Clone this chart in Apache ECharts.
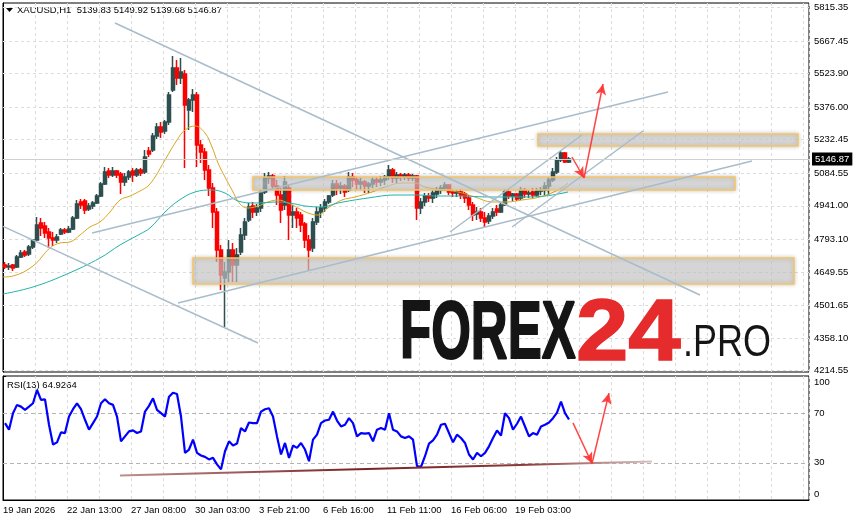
<!DOCTYPE html>
<html>
<head>
<meta charset="utf-8">
<title>XAUUSD H1</title>
<script src="https://cdn.jsdelivr.net/npm/echarts@6.0.0/dist/echarts.min.js"></script>
<style>
  html, body { margin: 0; padding: 0; background: #fff; }
  #chart { width: 855px; height: 521px; }
</style>
</head>
<body>
<div id="chart"></div>
<script>
const FONT = 'Liberation Sans, Arial, sans-serif';

// axis tick labels
const priceTicks = [4214.55, 4358.10, 4501.65, 4649.55, 4793.10, 4941.00, 5084.55, 5232.45, 5376.00, 5523.90, 5667.45, 5815.35];
const rsiTicks = [0, 30, 70, 100];
const timeLabels = ['19 Jan 2026', '22 Jan 13:00', '27 Jan 08:00', '30 Jan 03:00', '3 Feb 21:00',
  '6 Feb 16:00', '11 Feb 11:00', '16 Feb 06:00', '19 Feb 03:00'];

// one candle per 4 hourly bars: [open, close, low, high]
const ohlc = [
  [4680.2, 4671.4, 4662.6, 4693.4], [4671.4, 4675.8, 4658.2, 4689.0], [4680.2, 4667.0, 4653.8, 4684.6],
  [4671.4, 4715.4, 4667.0, 4724.2], [4715.4, 4733.0, 4711.0, 4746.3], [4737.4, 4724.2, 4715.4, 4746.3],
  [4728.6, 4759.5, 4719.8, 4768.3], [4759.5, 4790.3, 4750.7, 4794.7], [4790.3, 4856.4, 4785.9, 4891.6],
  [4865.2, 4843.2, 4807.9, 4887.2], [4852.0, 4821.1, 4799.1, 4869.6], [4825.5, 4799.1, 4755.1, 4843.2],
  [4799.1, 4790.3, 4763.9, 4825.5], [4790.3, 4803.5, 4777.1, 4816.7], [4816.7, 4834.4, 4812.3, 4843.2],
  [4834.4, 4825.5, 4816.7, 4843.2], [4825.5, 4838.8, 4821.1, 4852.0], [4838.8, 4887.2, 4834.4, 4896.0],
  [4887.2, 4948.9, 4882.8, 4966.5], [4957.7, 4944.5, 4926.9, 4970.9], [4962.1, 4922.5, 4904.8, 4970.9],
  [4926.9, 4940.1, 4918.0, 4953.3], [4940.1, 4953.3, 4926.9, 4962.1], [4953.3, 4984.1, 4948.9, 4992.9],
  [4984.1, 5037.0, 4979.7, 5045.8], [5037.0, 5089.8, 5032.6, 5111.9], [5094.2, 5076.6, 5063.4, 5107.5],
  [5076.6, 5094.2, 5067.8, 5111.9], [5094.2, 5076.6, 5063.4, 5098.6], [5081.0, 5045.8, 4992.9, 5089.8],
  [5045.8, 5067.8, 5028.2, 5085.4], [5067.8, 5089.8, 5054.6, 5098.6], [5094.2, 5076.6, 5045.8, 5107.5],
  [5076.6, 5098.6, 5067.8, 5107.5], [5098.6, 5085.4, 5072.2, 5107.5], [5089.8, 5155.9, 5081.0, 5186.8],
  [5182.3, 5169.1, 5155.9, 5200.0], [5186.8, 5248.4, 5177.9, 5261.6], [5248.4, 5288.1, 5235.2, 5305.7],
  [5288.1, 5266.0, 5239.6, 5310.1], [5270.4, 5310.1, 5257.2, 5318.9], [5310.1, 5429.0, 5296.9, 5442.2],
  [5451.1, 5548.0, 5442.2, 5600.8], [5548.0, 5503.9, 5473.1, 5583.2], [5503.9, 5530.3, 5477.5, 5592.0],
  [5521.5, 5385.0, 5107.5, 5539.2], [5363.0, 5407.0, 5274.9, 5415.8], [5407.0, 5429.0, 5354.1, 5455.5],
  [5429.0, 5208.8, 5111.9, 5442.2], [5208.8, 5177.9, 5129.5, 5230.8], [5177.9, 5098.6, 5054.6, 5195.6],
  [5098.6, 5019.4, 4984.1, 5120.7], [5019.4, 4913.6, 4843.2, 5041.4], [4913.6, 4746.3, 4693.4, 4931.3],
  [4746.3, 4636.1, 4570.1, 4768.3], [4622.9, 4649.3, 4407.1, 4693.4], [4649.3, 4746.3, 4605.3, 4790.3],
  [4746.3, 4680.2, 4605.3, 4777.1], [4680.2, 4724.2, 4605.3, 4755.1], [4737.4, 4812.3, 4724.2, 4843.2],
  [4812.3, 4869.6, 4790.3, 4887.2], [4878.4, 4935.7, 4869.6, 4953.3], [4940.1, 4913.6, 4887.2, 4957.7],
  [4913.6, 4931.3, 4896.0, 4948.9], [4931.3, 4997.3, 4913.6, 5010.5], [5001.7, 5063.4, 4992.9, 5085.4],
  [5063.4, 5072.2, 5037.0, 5089.8], [5072.2, 5028.2, 5010.5, 5081.0], [5028.2, 4988.5, 4944.5, 5054.6],
  [4988.5, 4922.5, 4865.2, 5019.4], [4944.5, 5045.8, 4922.5, 5072.2], [5019.4, 4900.4, 4790.3, 5032.6],
  [4900.4, 4913.6, 4843.2, 4944.5], [4913.6, 4887.2, 4843.2, 4931.3], [4900.4, 4856.4, 4825.5, 4913.6],
  [4860.8, 4790.3, 4755.1, 4869.6], [4790.3, 4746.3, 4658.2, 4812.3], [4755.1, 4869.6, 4737.4, 4887.2],
  [4869.6, 4913.6, 4856.4, 4935.7], [4913.6, 4931.3, 4887.2, 4948.9], [4931.3, 4957.7, 4913.6, 4970.9],
  [4957.7, 4984.1, 4948.9, 4988.5], [4988.5, 5037.0, 4979.7, 5054.6], [5037.0, 5019.4, 4988.5, 5054.6],
  [5019.4, 5028.2, 4992.9, 5045.8], [5028.2, 5001.7, 4979.7, 5037.0], [5010.5, 5067.8, 5001.7, 5089.8],
  [5067.8, 5054.6, 5023.8, 5085.4], [5054.6, 5037.0, 5010.5, 5067.8], [5037.0, 5045.8, 5010.5, 5063.4],
  [5045.8, 5028.2, 4997.3, 5054.6], [5028.2, 5037.0, 4997.3, 5045.8], [5037.0, 5054.6, 5019.4, 5067.8],
  [5054.6, 5045.8, 5023.8, 5067.8], [5045.8, 5054.6, 5028.2, 5072.2], [5054.6, 5067.8, 5032.6, 5076.6],
  [5067.8, 5098.6, 5054.6, 5120.7], [5098.6, 5063.4, 5041.4, 5107.5], [5063.4, 5076.6, 5041.4, 5089.8],
  [5076.6, 5067.8, 5050.2, 5085.4], [5067.8, 5076.6, 5054.6, 5085.4], [5076.6, 5063.4, 5050.2, 5085.4],
  [5063.4, 5072.2, 5050.2, 5081.0], [5072.2, 4931.3, 4878.4, 5076.6], [4931.3, 4957.7, 4904.8, 4975.3],
  [4957.7, 4984.1, 4940.1, 4997.3], [4984.1, 4975.3, 4957.7, 4997.3], [4975.3, 4997.3, 4953.3, 5010.5],
  [4992.9, 5010.5, 4975.3, 5023.8], [5010.5, 5019.4, 4992.9, 5032.6], [5019.4, 5032.6, 5006.1, 5045.8],
  [5032.6, 5001.7, 4988.5, 5037.0], [5001.7, 4997.3, 4979.7, 5014.9], [4997.3, 5001.7, 4979.7, 5010.5],
  [5001.7, 4988.5, 4970.9, 5014.9], [4992.9, 4975.3, 4953.3, 5001.7], [4975.3, 4944.5, 4922.5, 4988.5],
  [4944.5, 4900.4, 4874.0, 4957.7], [4904.8, 4913.6, 4878.4, 4935.7], [4913.6, 4887.2, 4869.6, 4931.3],
  [4887.2, 4869.6, 4847.6, 4913.6], [4874.0, 4896.0, 4860.8, 4909.2], [4896.0, 4913.6, 4882.8, 4931.3],
  [4926.9, 4913.6, 4896.0, 4944.5], [4913.6, 4944.5, 4909.2, 4957.7], [4944.5, 5001.7, 4940.1, 5014.9],
  [5001.7, 4984.1, 4970.9, 5014.9], [4984.1, 4992.9, 4962.1, 4997.3], [4992.9, 4970.9, 4962.1, 4997.3],
  [4975.3, 5010.5, 4966.5, 5023.8], [5010.5, 4992.9, 4975.3, 5019.4], [4992.9, 4997.3, 4975.3, 5010.5],
  [5001.7, 4988.5, 4975.3, 5019.4], [4988.5, 5006.1, 4979.7, 5019.4], [5006.1, 5010.5, 4988.5, 5023.8],
  [5010.5, 5028.2, 4988.5, 5045.8], [5028.2, 5054.6, 4988.5, 5067.8], [5054.6, 5089.8, 5045.8, 5107.5],
  [5089.8, 5142.7, 5081.0, 5155.9], [5142.7, 5173.5, 5133.9, 5182.3], [5173.5, 5133.9, 5129.5, 5177.9],
  [5133.9, 5146.87, 5129.5, 5155.9]
];

// moving averages: [bar, price]
const maFast = [[0, 4627.3], [10, 4631.7], [30, 4675.8], [47, 4755.1], [57, 4777.1], [67, 4781.5],
  [77, 4812.3], [87, 4847.6], [97, 4869.6], [107, 4913.6], [117, 4966.5], [127, 4984.1], [137, 5006.1],
  [145, 5028.2], [152, 5067.8], [162, 5142.7], [174, 5230.8], [182, 5274.9], [192, 5292.5], [202, 5261.6],
  [209, 5200.0], [215, 5129.5], [222, 5067.8], [229, 5010.5], [237, 4948.9], [245, 4931.3], [255, 4940.1],
  [265, 4957.7], [275, 4966.5], [285, 4953.3], [295, 4931.3], [305, 4909.2], [315, 4900.4], [325, 4931.3],
  [339, 4966.5], [352, 4979.7], [369, 5001.7], [382, 5023.8], [399, 5041.4], [412, 5041.4], [422, 5023.8],
  [439, 5010.5], [455, 5001.7], [472, 4979.7], [489, 4957.7], [504, 4957.7], [519, 4966.5], [537, 4979.7],
  [555, 5010.5], [565, 5041.4]];
const maSlow = [[0, 4552.4], [30, 4583.3], [64, 4640.5], [97, 4711.0], [117, 4768.3], [137, 4816.7],
  [147, 4843.2], [162, 4913.6], [175, 4962.1], [192, 5001.7], [209, 5010.5], [222, 4997.3], [235, 4962.1],
  [252, 4953.3], [275, 4957.7], [292, 4948.9], [302, 4940.1], [319, 4935.7], [335, 4953.3], [365, 4975.3],
  [392, 4988.5], [415, 4988.5], [432, 4984.1], [455, 4984.1], [489, 4979.7], [515, 4979.7], [542, 4984.1],
  [565, 5001.7]];

// RSI(13), one value per candle
const rsi = [62.0, 56.7, 70.0, 76.7, 75.3, 72.7, 75.3, 78.0, 88.7, 80.7, 81.2, 60.7, 44.7, 46.5, 54.5, 54.0,
  67.3, 73.2, 78.0, 73.2, 64.7, 56.7, 62.0, 67.3, 78.0, 81.2, 78.0, 76.7, 67.3, 47.3, 51.3, 55.3, 56.1, 54.0,
  55.3, 71.3, 75.9, 82.0, 72.7, 70.0, 67.3, 83.3, 86.5, 85.5, 67.3, 38.0, 40.7, 48.7, 38.0, 35.9, 34.8, 32.7,
  34.0, 28.7, 24.7, 39.3, 47.3, 43.9, 45.5, 58.0, 55.3, 62.5, 62.0, 62.0, 71.3, 73.2, 74.0, 67.3, 51.3, 36.7,
  46.0, 34.0, 43.9, 42.0, 46.0, 40.7, 31.3, 48.7, 52.7, 62.0, 64.1, 64.7, 71.3, 64.1, 59.3, 60.7, 66.0, 62.0,
  51.3, 54.0, 53.5, 54.0, 47.3, 56.7, 58.0, 56.7, 70.0, 56.7, 55.3, 51.3, 50.0, 51.3, 48.7, 27.3, 26.8, 35.3,
  45.5, 48.1, 52.7, 60.7, 61.5, 54.0, 46.5, 52.7, 50.0, 46.0, 36.7, 32.7, 38.0, 35.3, 38.0, 43.3, 50.0, 56.1,
  51.9, 70.0, 66.0, 56.7, 61.5, 67.3, 59.3, 51.3, 54.0, 52.7, 59.3, 60.7, 62.5, 66.0, 70.5, 79.3, 70.0, 64.9264];

// drawings: [bar0, value0, bar1, value1]
const zones = [[190, 4711.0, 791, 4596.5], [250, 5067.8, 732, 5010.5], [535, 5257.2, 795, 5204.4]];
const trendLines = [[112, 5746.2, 697, 4548.0], [0, 4850.2, 255, 4336.6], [175, 4512.8, 749, 5138.3],
  [89, 4821.1, 665, 5442.2], [447, 4825.5, 579, 5252.8], [509, 4847.6, 640, 5270.4]];
const priceArrows = [[569, 5155.9, 581, 5063.4], [581, 5063.4, 600, 5477.5]];
const rsiArrows = [[570, 62.2, 589, 29.4], [589, 29.4, 606, 86.2]];
const rsiTrend = [[117, 19.8], [649, 31.0]];
const lastPrice = 5146.87;

const candleData = ohlc.map((d, i) => [i * 4 + 2, d[0], d[1], d[2], d[3]]);
const rsiData = rsi.map((v, i) => [i * 4 + 2, v]);
const segs = (list) => list.map(s => [{ coord: [s[0], s[1]] }, { coord: [s[2], s[3]] }]);

const chart = echarts.init(document.getElementById('chart'));

const textStyle = { fontFamily: FONT, fontSize: 9.5, color: '#000' };
const dashed = { color: '#dcdcdc', type: [3, 3], width: 1 };

const option = {
  animation: false,
  backgroundColor: '#fff',
  grid: [
    { left: 3, top: 3, width: 806, height: 369, show: true, borderColor: '#000', borderWidth: 1 },
    { left: 3, top: 376, width: 806, height: 124, show: true, borderColor: '#000', borderWidth: 1 }
  ],
  xAxis: [
    {
      type: 'value', gridIndex: 0, min: 0, max: 806, interval: 32,
      axisLine: { show: false }, axisTick: { show: false }, axisLabel: { show: false },
      splitLine: { show: true, lineStyle: dashed }
    },
    {
      type: 'value', gridIndex: 1, min: 0, max: 806, interval: 32,
      axisLine: { show: true, lineStyle: { color: '#000' } },
      axisTick: { show: false },
      axisLabel: {
        ...textStyle, align: 'left', margin: 5,
        formatter: v => (v % 64 === 0 ? (timeLabels[v / 64] || '') : '')
      },
      splitLine: { show: true, lineStyle: dashed }
    }
  ],
  yAxis: [
    {
      type: 'value', gridIndex: 0, position: 'right', min: 4208.8, max: 5834.3,
      axisLine: { show: true, lineStyle: { color: '#000' } },
      axisTick: { show: true, customValues: priceTicks, length: 3, lineStyle: { color: '#000' } },
      axisLabel: { ...textStyle, margin: 5, customValues: priceTicks, formatter: v => v.toFixed(2) },
      splitLine: { show: false }
    },
    {
      type: 'value', gridIndex: 1, position: 'right', min: 0, max: 100,
      axisLine: { show: true, lineStyle: { color: '#000' } },
      axisTick: { show: true, customValues: rsiTicks, length: 3, lineStyle: { color: '#000' } },
      axisLabel: {
        ...textStyle, margin: 5, customValues: rsiTicks,
        formatter: v => (v === 100 ? '{t|100}' : v === 0 ? '{b|0}' : String(v)),
        rich: {
          t: { fontFamily: FONT, fontSize: 9.5, color: '#000', padding: [12, 0, 0, 0] },
          b: { fontFamily: FONT, fontSize: 9.5, color: '#000', padding: [0, 0, 12, 0] }
        }
      },
      splitLine: { show: false }
    }
  ],
  series: [
    {
      name: 'XAUUSD,H1',
      type: 'candlestick',
      xAxisIndex: 0, yAxisIndex: 0,
      data: candleData,
      encode: { x: 0, y: [1, 2, 3, 4] },
      barWidth: 3.5,
      z: 2,
      itemStyle: { color: '#2F4F4F', color0: '#FF0000', borderColor: '#2F4F4F', borderColor0: '#FF0000', borderWidth: 1.5 },
      markLine: {
        z: 1, silent: true, symbol: 'none', label: { show: false },
        lineStyle: dashed,
        data: priceTicks.map(v => ({ yAxis: v }))
      }
    },
    {
      name: 'MA fast',
      type: 'line',
      xAxisIndex: 0, yAxisIndex: 0,
      data: maFast, showSymbol: false, smooth: 0.4, z: 3,
      lineStyle: { color: '#DAA520', width: 1 },
      markLine: {
        z: 6, silent: true, symbol: 'none', label: { show: false },
        lineStyle: { color: '#a9bccb', width: 1.5, type: 'solid' },
        data: segs(trendLines).concat([{
          yAxis: lastPrice,
          lineStyle: { color: '#d0d0d0', width: 1, type: 'solid' },
          label: {
            show: true, position: 'end', distance: 3, formatter: lastPrice.toFixed(2),
            backgroundColor: '#000', color: '#fff', fontFamily: FONT, fontSize: 9.5, padding: [2, 3, 1, 3]
          }
        }])
      }
    },
    {
      name: 'MA slow',
      type: 'line',
      xAxisIndex: 0, yAxisIndex: 0,
      data: maSlow, showSymbol: false, smooth: 0.4, z: 3,
      lineStyle: { color: '#20B2AA', width: 1 },
      markLine: {
        z: 7, silent: true, symbol: ['none', 'arrow'], symbolSize: [8, 11], label: { show: false },
        lineStyle: { color: 'rgba(255,50,50,0.9)', width: 1.5, type: 'solid' },
        data: segs(priceArrows)
      }
    },
    {
      name: 'zones',
      type: 'custom',
      xAxisIndex: 0, yAxisIndex: 0,
      z: 4, silent: true,
      data: zones,
      encode: { x: [0, 2], y: [1, 3] },
      renderItem: (params, api) => {
        const p0 = api.coord([api.value(0), api.value(1)]);
        const p1 = api.coord([api.value(2), api.value(3)]);
        return {
          type: 'rect',
          shape: { x: p0[0], y: p0[1], width: p1[0] - p0[0], height: p1[1] - p0[1] },
          style: {
            fill: 'rgba(212,212,212,0.62)', stroke: '#f3c466', lineWidth: 1.5,
            shadowBlur: 4, shadowColor: 'rgba(0,0,0,0.25)'
          }
        };
      }
    },
    {
      name: 'RSI(13)',
      type: 'line',
      xAxisIndex: 1, yAxisIndex: 1,
      data: rsiData, showSymbol: false, z: 3,
      lineStyle: { color: '#0000FF', width: 2.2 },
      markLine: {
        z: 1, silent: true, symbol: 'none', label: { show: false },
        lineStyle: { color: '#b4b4b4', type: [4, 3], width: 1 },
        data: [{ yAxis: 70 }, { yAxis: 30 }]
      }
    },
    {
      name: 'RSI trend',
      type: 'line',
      xAxisIndex: 1, yAxisIndex: 1,
      data: rsiTrend, showSymbol: false, z: 4,
      lineStyle: {
        width: 2,
        color: {
          type: 'linear', x: 0, y: 0, x2: 1, y2: 0,
          colorStops: [
            { offset: 0, color: '#c09090' }, { offset: 0.45, color: '#7a2424' },
            { offset: 0.75, color: '#8a3838' }, { offset: 1, color: '#dcc4c4' }
          ]
        }
      },
      markLine: {
        z: 7, silent: true, symbol: ['none', 'arrow'], symbolSize: [8, 11], label: { show: false },
        lineStyle: { color: 'rgba(255,50,50,0.9)', width: 1.5, type: 'solid' },
        data: segs(rsiArrows)
      }
    }
  ],
  graphic: [
    { type: 'polygon', silent: true, shape: { points: [[6, 8], [13, 8], [9.5, 12]] }, style: { fill: '#000' } },
    {
      type: 'text', silent: true, x: 17, y: 10.5,
      style: { text: 'XAUUSD,H1  5139.83 5149.92 5139.68 5146.87', font: '9.5px ' + FONT, fill: '#000', textVerticalAlign: 'middle' }
    },
    {
      type: 'text', silent: true, x: 7, y: 385,
      style: { text: 'RSI(13) 64.9264', font: '9.5px ' + FONT, fill: '#000', textVerticalAlign: 'middle' }
    },
    {
      type: 'text', silent: true, x: 400, y: 336, scaleX: 0.63, z: 20,
      style: { text: 'FOREX', font: 'bold 81px ' + FONT, fill: '#151515', stroke: '#151515', lineWidth: 2, textVerticalAlign: 'middle' }
    },
    {
      type: 'text', silent: true, x: 576, y: 335.5, scaleX: 1.07, z: 20,
      style: { text: '24', font: 'bold 88px ' + FONT, fill: '#e52b2b', stroke: '#e52b2b', lineWidth: 1.5, textVerticalAlign: 'middle' }
    },
    {
      type: 'text', silent: true, x: 683, y: 344, scaleX: 0.8, z: 20,
      style: { text: '.PRO', font: '45px ' + FONT, fill: '#151515', textVerticalAlign: 'middle' }
    }
  ]
};

chart.setOption(option);
</script>
</body>
</html>
